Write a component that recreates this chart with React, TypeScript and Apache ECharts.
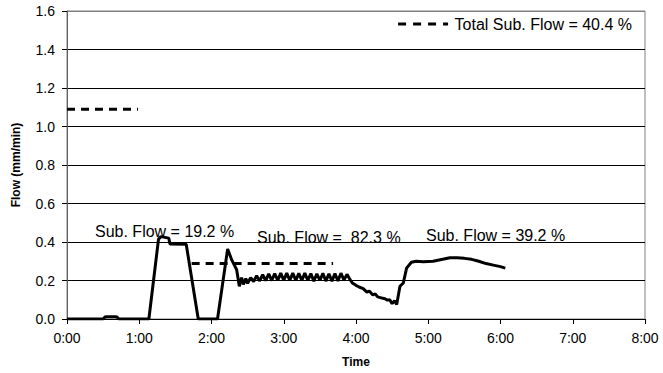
import React, { useEffect, useRef } from "react";
import * as echarts from "echarts";

// [time in minutes, flow in mm/min]
const flowPoints: [number, number][] = [
  [0, 0], [30, 0], [31.5, 0.01], [33, 0.012], [40, 0.012], [41.5, 0.01], [43, 0],
  [68, 0], [76, 0.415], [78, 0.428], [84.5, 0.42], [85.5, 0.39], [99, 0.388],
  [109, 0], [125, 0], [133.4, 0.364], [136.8, 0.307], [140.9, 0.256], [143.1, 0.17],
  [145, 0.215], [146.5, 0.18], [148.5, 0.21], [150, 0.185], [152.5, 0.215], [155, 0.195],
  [157.5, 0.225], [160, 0.198], [162.5, 0.23], [165, 0.2], [167.5, 0.234], [170, 0.2],
  [172.5, 0.236], [175, 0.2], [177.5, 0.238], [180, 0.2], [182.5, 0.238], [185, 0.2],
  [187.5, 0.238], [190, 0.2], [192.5, 0.237], [195, 0.2], [197.5, 0.238], [200, 0.2],
  [202.5, 0.236], [205, 0.197], [207.5, 0.235], [210, 0.2], [212.5, 0.237], [215, 0.197],
  [217.5, 0.235], [220, 0.197], [222.5, 0.236], [225, 0.198], [227.5, 0.238], [230, 0.202],
  [232.5, 0.232], [234.5, 0.21],
  [237, 0.187], [240, 0.175], [243, 0.165], [246, 0.158], [249, 0.14], [251, 0.145],
  [254, 0.125], [256, 0.13], [258, 0.115], [261, 0.11], [264, 0.105], [266, 0.098],
  [268, 0.1], [270, 0.08], [272, 0.095], [273.8, 0.075], [276.5, 0.17], [279.3, 0.187],
  [282, 0.264], [286, 0.295], [290, 0.3], [296, 0.298], [304, 0.3], [312, 0.31],
  [318, 0.318], [324, 0.318], [330, 0.315], [336, 0.31], [342, 0.3], [348, 0.288],
  [354, 0.28], [360, 0.272], [364, 0.264],
];

const avgFirst: [number, number][] = [[0, 1.09], [59, 1.09]];
const avgSecond: [number, number][] = [[103.5, 0.288], [221, 0.288]];

const legendLabel = "Total Sub. Flow = 40.4 %";
const annotations = ["Sub. Flow = 19.2 %", "Sub. Flow =  82.3 %", "Sub. Flow = 39.2 %"];

const FONT = "Liberation Sans, Arial, sans-serif";

export default function App() {
  const ref = useRef<HTMLDivElement>(null);
  useEffect(() => {
    if (!ref.current) return;
    const chart = echarts.init(ref.current, null, { renderer: "svg" });
    const dash = { type: [8, 6] as any, width: 3, color: "#000" };
    chart.setOption({
      animation: false,
      backgroundColor: "#fff",
      textStyle: { fontFamily: FONT },
      grid: {
        left: 67,
        right: 18,
        top: 11,
        bottom: 50,
        show: true,
        borderColor: "#808080",
        borderWidth: 1,
        backgroundColor: "transparent",
      },
      legend: {
        right: 26,
        top: 11,
        itemWidth: 53,
        itemHeight: 3,
        itemGap: 16,
        icon: "path://M0,0h8v3h-8z M15,0h8v3h-8z M30,0h8v3h-8z M45,0h5v3h-5z",
        data: [legendLabel],
        textStyle: { fontFamily: FONT, fontSize: 16, color: "#000" },
        selectedMode: false,
      },
      xAxis: {
        type: "value",
        min: 0,
        max: 480,
        interval: 60,
        name: "Time",
        nameLocation: "middle",
        nameGap: 37,
        nameTextStyle: { fontFamily: FONT, fontSize: 12, fontWeight: "bold", color: "#000" },
        axisLine: { lineStyle: { color: "#000", width: 1 } },
        axisTick: { show: true, length: 5, lineStyle: { color: "#000" } },
        axisLabel: {
          fontFamily: FONT,
          fontSize: 14,
          color: "#000",
          margin: 12,
          formatter: (v: number) => `${Math.round(v / 60)}:00`,
        },
        splitLine: { show: false },
      },
      yAxis: {
        type: "value",
        min: 0,
        max: 1.6,
        interval: 0.2,
        name: "Flow (mm/min)",
        nameLocation: "middle",
        nameGap: 45,
        nameTextStyle: { fontFamily: FONT, fontSize: 12, fontWeight: "bold", color: "#000" },
        axisLine: { show: true, lineStyle: { color: "#606060", width: 1 } },
        axisTick: { show: true, length: 5, lineStyle: { color: "#000" } },
        axisLabel: {
          fontFamily: FONT,
          fontSize: 14,
          color: "#000",
          margin: 12,
          formatter: (v: number) => v.toFixed(1),
        },
        splitLine: {
          show: true,
          lineStyle: {
            color: ["#000", "#000", "#000", "#000", "#000", "#000", "#000", "#000", "#808080"],
            width: 1,
          },
        },
      },
      series: [
        {
          type: "line",
          name: "Flow",
          data: flowPoints,
          showSymbol: false,
          symbol: "none",
          lineStyle: { color: "#000", width: 3 },
          z: 5,
        },
        {
          type: "line",
          name: legendLabel,
          data: avgFirst,
          showSymbol: false,
          symbol: "none",
          lineStyle: dash,
          itemStyle: { color: "#000" },
        },
        {
          type: "line",
          name: "avg2",
          data: avgSecond,
          showSymbol: false,
          symbol: "none",
          lineStyle: dash,
        },
      ],
      graphic: [
        {
          type: "text",
          x: 95,
          y: 231,
          style: { text: annotations[0], font: `16px ${FONT}`, fill: "#000", verticalAlign: "middle" },
        },
        {
          type: "text",
          x: 257,
          y: 237,
          style: { text: annotations[1], font: `16px ${FONT}`, fill: "#000", verticalAlign: "middle" },
        },
        {
          type: "text",
          x: 426,
          y: 235,
          style: { text: annotations[2], font: `16px ${FONT}`, fill: "#000", verticalAlign: "middle" },
        },
      ],
    });
    return () => chart.dispose();
  }, []);
  return (
    <div
      ref={ref}
      style={{ position: "absolute", left: 0, top: 0, width: 663, height: 373 }}
    />
  );
}
